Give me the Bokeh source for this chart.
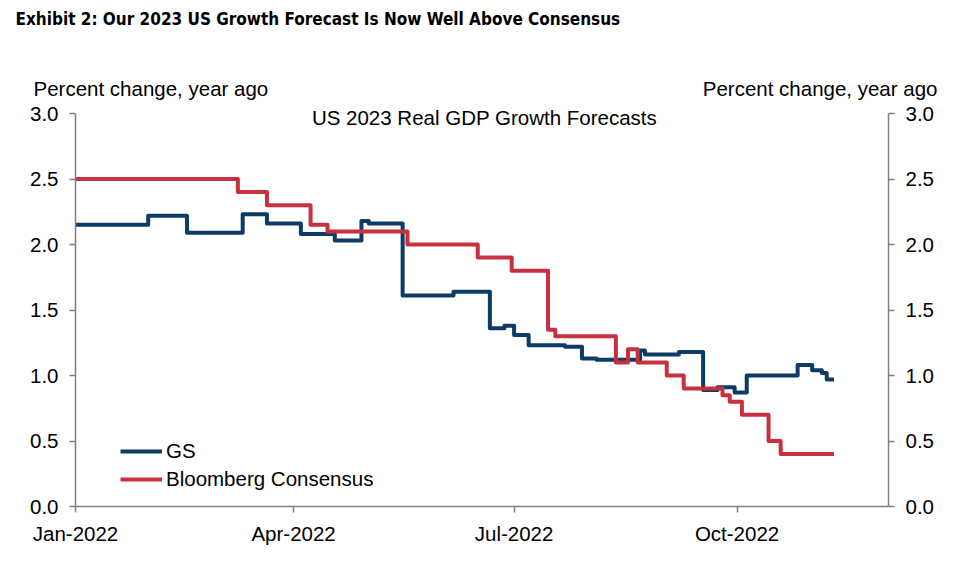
import datetime as dt
from bokeh.plotting import figure
from bokeh.layouts import column
from bokeh.core.properties import value
from bokeh.models import (Range1d, LinearAxis, FixedTicker, DatetimeTickFormatter,
                          PrintfTickFormatter, Label, Legend, LegendItem)
from bokeh.embed import file_html
from bokeh.resources import INLINE

# ---- data ----
gs_dates = ["2022-01-01", "2022-01-31", "2022-02-16", "2022-03-11", "2022-03-21",
            "2022-04-04", "2022-04-18", "2022-04-29", "2022-05-02", "2022-05-16",
            "2022-06-06", "2022-06-21", "2022-06-27", "2022-07-01", "2022-07-07",
            "2022-07-22", "2022-07-29", "2022-08-04", "2022-08-22", "2022-08-24",
            "2022-09-07", "2022-09-17", "2022-09-23", "2022-09-30", "2022-10-05",
            "2022-10-26", "2022-11-01", "2022-11-05", "2022-11-07", "2022-11-10"]
gs_values = [2.15, 2.22, 2.09, 2.23, 2.16,
             2.08, 2.03, 2.18, 2.16, 1.61,
             1.64, 1.36, 1.38, 1.31, 1.23,
             1.22, 1.13, 1.12, 1.19, 1.16,
             1.18, 0.89, 0.91, 0.87, 1.00,
             1.08, 1.04, 1.02, 0.97, 0.97]

bbg_dates = ["2022-01-01", "2022-03-09", "2022-03-21", "2022-04-08", "2022-04-15",
             "2022-05-18", "2022-06-16", "2022-06-30", "2022-07-15", "2022-07-18",
             "2022-08-12", "2022-08-17", "2022-08-21", "2022-09-02", "2022-09-09",
             "2022-09-25", "2022-09-28", "2022-10-03", "2022-10-14", "2022-10-19",
             "2022-11-10"]
bbg_values = [2.5, 2.4, 2.3, 2.15, 2.1,
              2.0, 1.9, 1.8, 1.35, 1.3,
              1.1, 1.2, 1.1, 1.0, 0.9,
              0.85, 0.8, 0.7, 0.5, 0.4,
              0.4]

series_names = ["GS", "Bloomberg Consensus"]
x_tick_dates = ["2022-01-01", "2022-04-01", "2022-07-01", "2022-10-01"]
y_ticks = [0.0, 0.5, 1.0, 1.5, 2.0, 2.5, 3.0]

exhibit_title = "Exhibit 2: Our 2023 US Growth Forecast Is Now Well Above Consensus"
chart_title = "US 2023 Real GDP Growth Forecasts"
unit_label = "Percent change, year ago"


def to_dt(s):
    return dt.datetime.strptime(s, "%Y-%m-%d")


def to_ms(s):
    return (to_dt(s) - dt.datetime(1970, 1, 1)).total_seconds() * 1000.0


GS_COLOR = "#0c3b66"
BBG_COLOR = "#c9303e"
AXIS_COLOR = "#808080"
FONT = "Liberation Sans"
TITLE_FONT = "DejaVu Sans Condensed, Roboto Condensed, Liberation Sans, sans-serif"
FS = "20.5px"

# ---------------- header strip (texts outside the plot frame) ----------------
TOP_H = 100
top = figure(width=960, height=TOP_H, x_range=Range1d(0, 960), y_range=Range1d(TOP_H, 0),
             x_axis_location=None, y_axis_location=None,
             output_backend="svg", toolbar_location=None, min_border=0)
if hasattr(top, "frame_align"):
    top.frame_align = False
top.outline_line_color = None
top.grid.visible = False
top.background_fill_color = "white"
top.border_fill_color = "white"
top.text(x=[15], y=[18], text=[exhibit_title], text_baseline="middle", text_align="left",
         text_font=value(TITLE_FONT), text_font_style="bold",
         text_font_size="17px", text_color="black")
top.text(x=[33, 937], y=[88, 88], text=[unit_label, unit_label], text_baseline="middle",
         text_align=["left", "right"], text_font=value(FONT), text_font_size=FS,
         text_color="black")

# ---------------- main chart ----------------
MAIN_H = 565 - TOP_H
FRAME_H = 406           # frame spans from top of this canvas down to the x axis
PX_PER_UNIT = 131.0     # 3.0 sits 13 px below the top of the frame

x_start = to_dt(x_tick_dates[0])
x_end = x_start + dt.timedelta(days=335.5)

p = figure(width=960, height=MAIN_H, x_axis_type="datetime",
           x_range=Range1d(x_start, x_end), y_range=Range1d(0, FRAME_H / PX_PER_UNIT),
           output_backend="svg", toolbar_location=None,
           min_border_left=75, min_border_right=72,
           min_border_top=0, min_border_bottom=MAIN_H - FRAME_H)
if hasattr(p, "frame_align"):
    p.frame_align = False
p.outline_line_color = None
p.xgrid.grid_line_color = None
p.ygrid.grid_line_color = None
p.background_fill_color = "white"
p.border_fill_color = "white"

r_gs = p.step([to_dt(d) for d in gs_dates], gs_values, mode="after",
              line_color=GS_COLOR, line_width=4, line_join="round")
r_bbg = p.step([to_dt(d) for d in bbg_dates], bbg_values, mode="after",
               line_color=BBG_COLOR, line_width=4, line_join="round")

right_axis = LinearAxis()
p.add_layout(right_axis, "right")


def style_axis(ax, standoff):
    ax.axis_line_color = AXIS_COLOR
    ax.axis_line_width = 1.5
    ax.major_tick_line_color = AXIS_COLOR
    ax.major_tick_line_width = 1.5
    ax.major_tick_out = 6
    ax.major_tick_in = 0
    ax.minor_tick_line_color = None
    ax.major_label_text_font = FONT
    ax.major_label_text_font_size = FS
    ax.major_label_text_color = "black"
    ax.major_label_standoff = standoff


for ax in [p.yaxis[0], right_axis]:
    ax.ticker = FixedTicker(ticks=y_ticks)
    ax.formatter = PrintfTickFormatter(format="%.1f")
    ax.bounds = (y_ticks[0], y_ticks[-1])
    style_axis(ax, 11)

xa = p.xaxis[0]
xa.ticker = FixedTicker(ticks=[to_ms(d) for d in x_tick_dates])
fmt = "%b-%Y"
xa.formatter = DatetimeTickFormatter(days=fmt, months=fmt, years=fmt, hours=fmt,
                                     hourmin=fmt, minutes=fmt, minsec=fmt,
                                     seconds=fmt, milliseconds=fmt, microseconds=fmt)
style_axis(xa, 9)

legend = Legend(items=[LegendItem(label=series_names[0], renderers=[r_gs]),
                       LegendItem(label=series_names[1], renderers=[r_bbg])],
                location=(45, 13), border_line_color=None, background_fill_alpha=0,
                padding=0, margin=0, spacing=0, glyph_width=42, glyph_height=28,
                label_height=28, label_standoff=4,
                label_text_font=FONT, label_text_font_size=FS,
                label_text_color="black")
p.add_layout(legend)

p.add_layout(Label(x=409, y=389, x_units="screen", y_units="screen", text=chart_title,
                   text_align="center", text_baseline="middle",
                   text_font=FONT, text_font_size=FS, text_color="black"))

layout = column(top, p, spacing=0)
open("out.html", "w").write(file_html(layout, INLINE))
